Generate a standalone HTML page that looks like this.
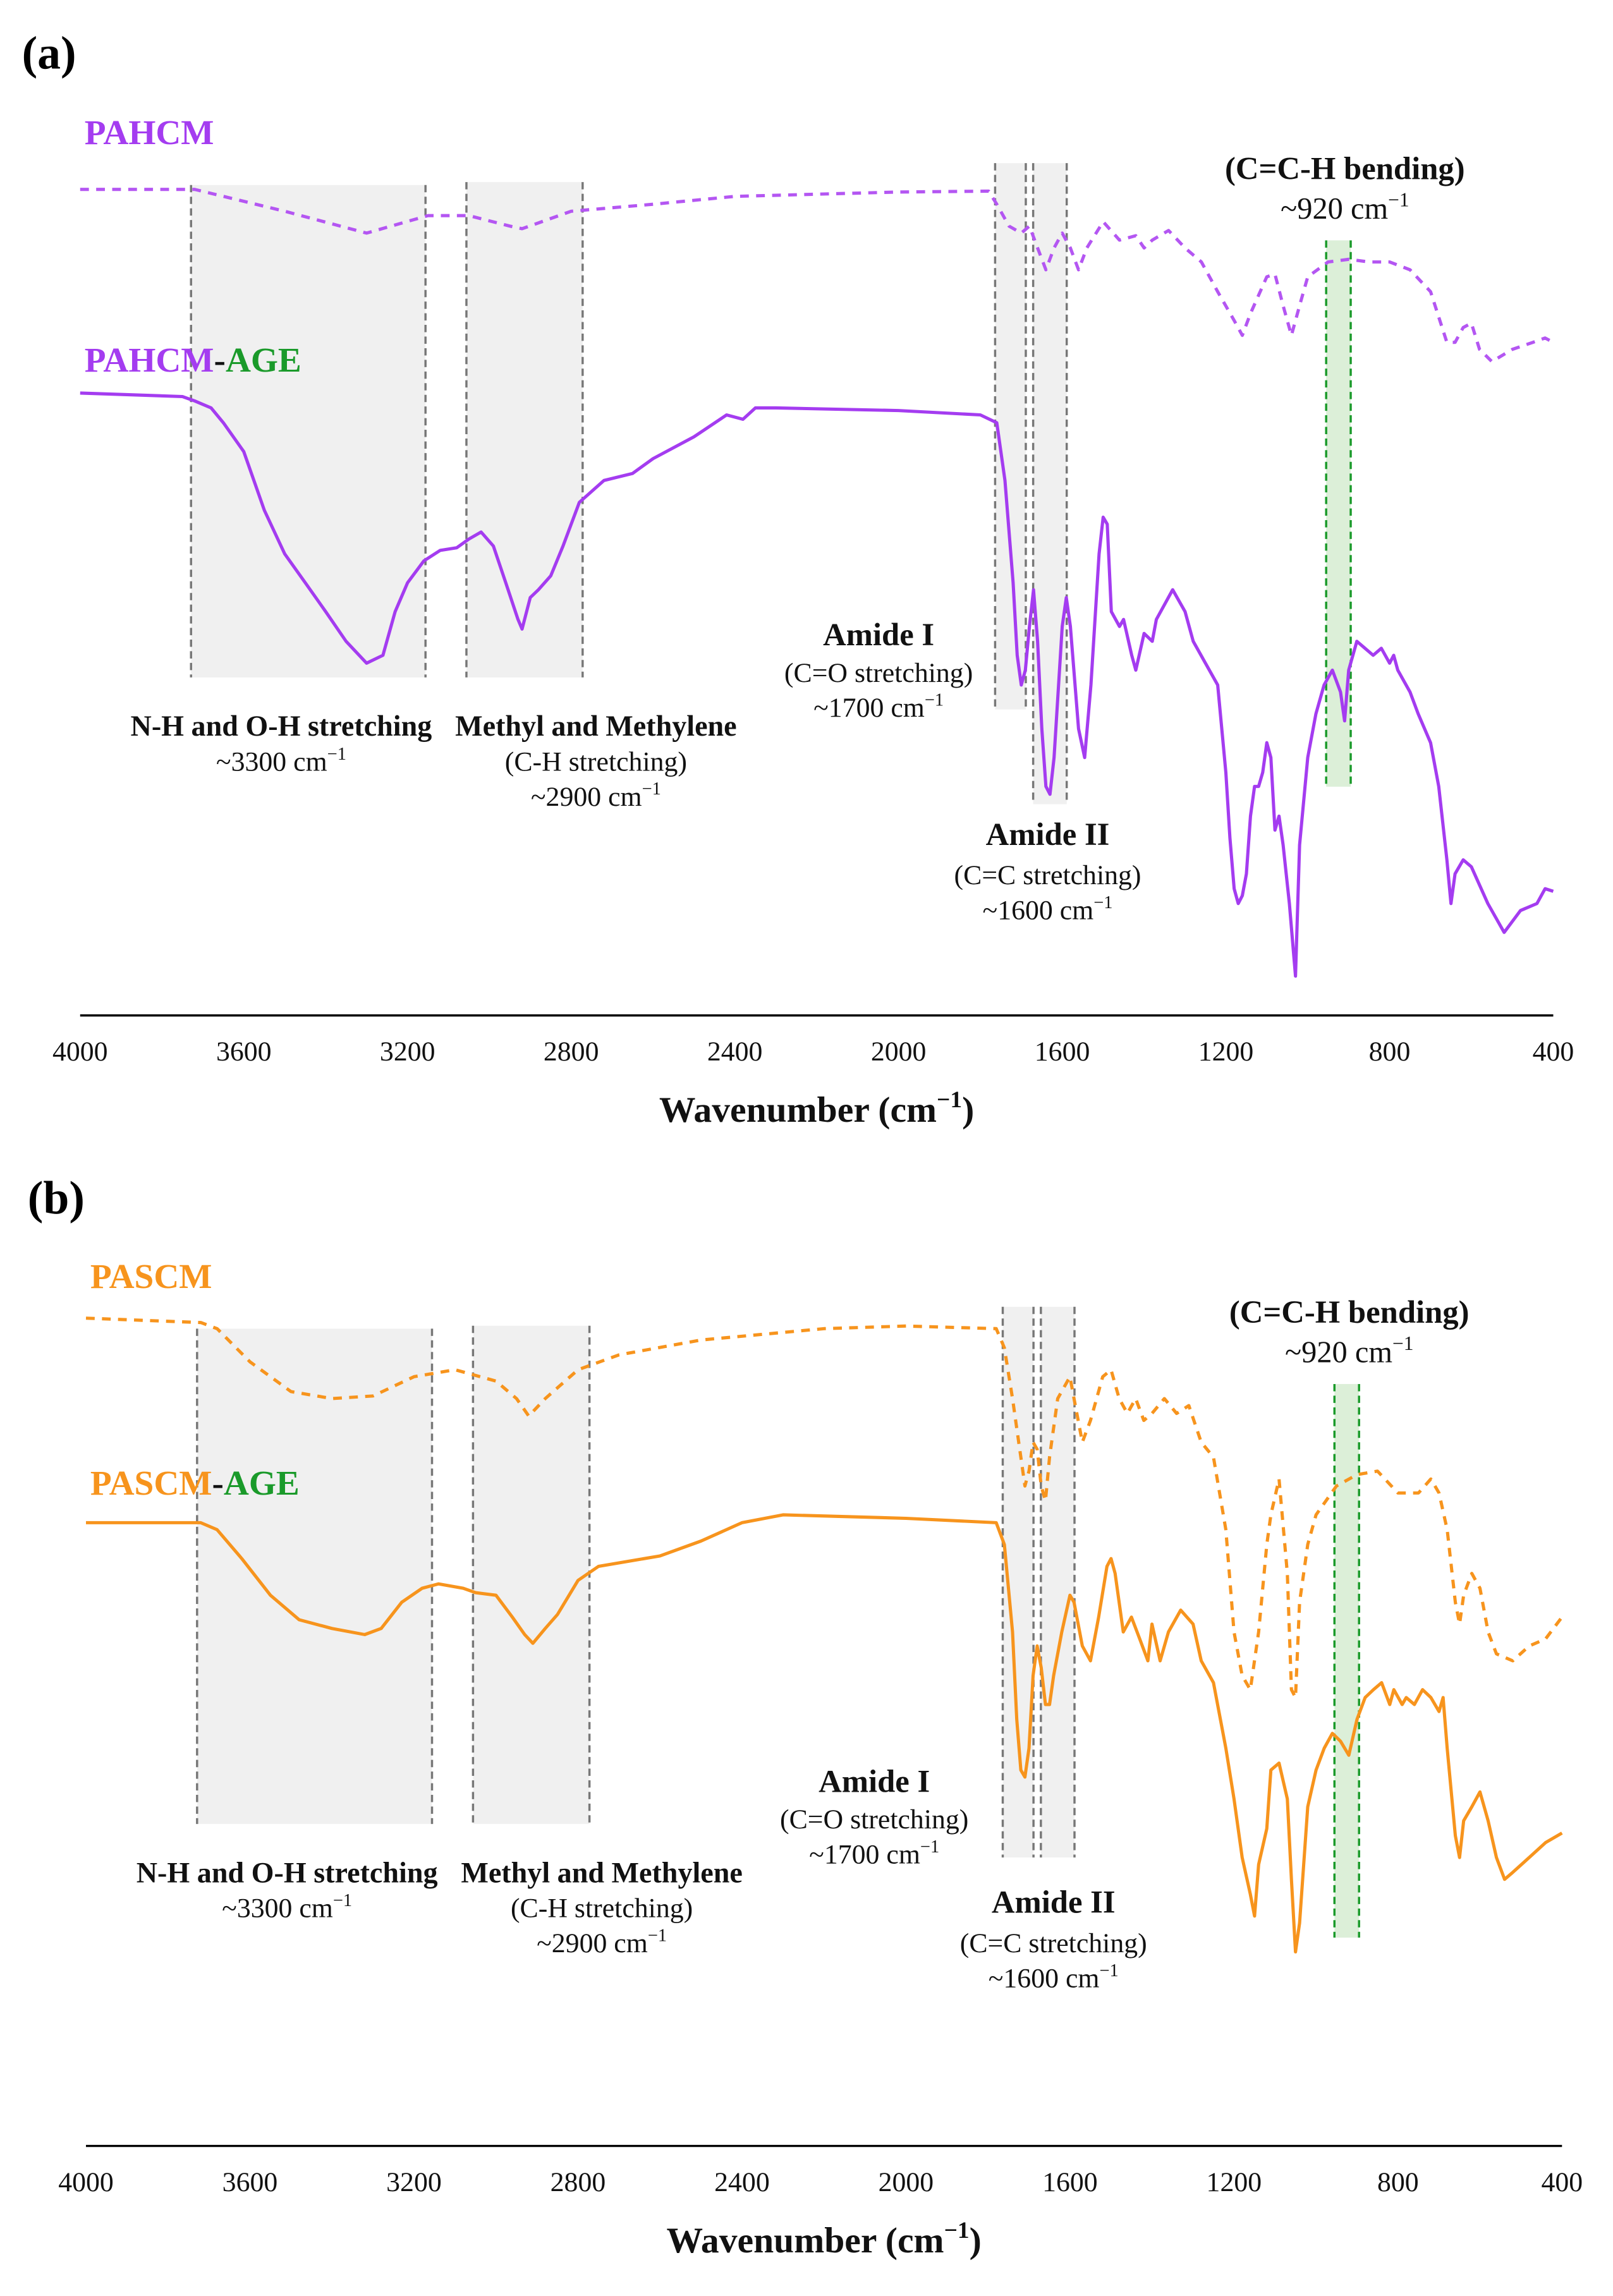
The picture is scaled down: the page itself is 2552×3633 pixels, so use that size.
<!DOCTYPE html>
<html><head><meta charset="utf-8"><style>
html,body{margin:0;padding:0;background:#fff}
svg{display:block}
text{font-family:"Liberation Serif",serif}
</style></head><body>
<svg id="chart" width="2552" height="3633" viewBox="0 0 1107 1576" preserveAspectRatio="none" xmlns="http://www.w3.org/2000/svg" font-family="Liberation Serif, serif">
<g id="panelA"></g>
<g id="panelB"></g>
</svg>
<script>
// ---- data: [wavenumber (cm-1), transmittance (a.u.)] ----
const tickLabels = [4000,3600,3200,2800,2400,2000,1600,1200,800,400];
const pahcmWn = [4000,3720,3500,3300,3150,3050,2950,2920,2800,2600,2400,2000,1780,1760,1730,1700,1680,1660,1640,1620,1600,1580,1560,1540,1500,1460,1420,1400,1380,1340,1300,1260,1220,1180,1160,1140,1100,1080,1060,1040,1020,1000,950,900,850,800,750,700,660,640,620,600,580,550,500,450,420,400];
const pahcmT = [94.5,94.5,92,89.5,91.5,91.5,90.3,90,92,92.8,93.7,94.2,94.3,92.8,90.3,89.5,90.3,87.8,85.3,87.8,89.5,87.8,85.3,87.8,90.8,88.7,89.2,87.8,88.7,89.8,87.8,86.2,82.8,79.5,77.8,80.3,84.5,84.8,81.2,77.8,81.2,84.5,86.2,86.5,86.2,86.2,85.3,82.8,77,77,78.7,79.2,76.2,74.8,76.2,77,77.5,77];
const pahcmAgeWn = [4000,3750,3720,3680,3650,3600,3550,3500,3450,3400,3350,3300,3260,3230,3200,3160,3120,3080,3050,3020,2990,2960,2930,2920,2900,2880,2850,2820,2780,2720,2650,2600,2500,2420,2380,2350,2300,2000,1800,1760,1740,1720,1710,1700,1690,1680,1670,1660,1650,1640,1630,1620,1600,1590,1580,1560,1545,1530,1510,1500,1490,1480,1460,1450,1430,1420,1400,1380,1370,1350,1330,1300,1280,1250,1220,1200,1190,1180,1170,1160,1150,1140,1130,1120,1110,1100,1090,1080,1070,1060,1045,1030,1020,1000,980,960,940,920,910,900,880,860,840,820,800,790,780,750,730,700,680,660,650,640,620,600,560,520,480,440,420,400];
const pahcmAgeT = [71.2,70.8,70.3,69.5,67.8,64.5,57.8,52.8,49.5,46.2,42.8,40.3,41.2,46.2,49.5,52,53.2,53.5,54.5,55.3,53.7,49.5,45.3,44.2,47.8,48.7,50.3,53.7,58.7,61.2,62,63.7,66.2,68.7,68.2,69.5,69.5,69.2,68.7,67.8,61.2,49.5,41.2,37.8,39.5,44.5,48.7,42.8,32.8,26.2,25.3,29.5,44.5,47.8,44.5,32.8,29.5,37.8,52.8,57,56.2,46.2,44.5,45.3,41.2,39.5,43.7,42.8,45.3,47,48.7,46.2,42.8,40.3,37.8,27.8,20.3,14.5,12.8,13.7,16.2,22.8,26.2,26.2,27.8,31.2,29.5,21.2,22.8,19.5,12.8,4.5,19.5,29.5,34.5,37.8,39.5,37,33.7,39.5,42.8,42,41.2,42,40.3,41.2,39.5,37,34.5,31.2,26.2,17.8,12.8,16.2,17.8,17,12.8,9.5,12,12.8,14.5,14.2];
const pascmWn = [4000,3720,3680,3600,3500,3400,3300,3200,3100,3000,2950,2920,2880,2800,2700,2500,2200,2000,1780,1760,1740,1720,1710,1700,1690,1680,1670,1660,1650,1630,1600,1590,1570,1550,1520,1500,1480,1460,1440,1420,1400,1370,1340,1310,1280,1250,1220,1200,1180,1160,1140,1120,1110,1090,1070,1060,1050,1040,1020,1000,950,900,850,800,750,720,700,680,660,650,640,620,600,580,560,520,480,440,400];
const pascmT = [94.7,94.2,93.5,89.7,86.3,85.5,85.8,88,88.8,87.5,85.5,83.5,85.5,88.8,90.5,92.2,93.5,93.8,93.5,91.3,85.5,78.8,75.5,77.2,80.5,79.7,75.5,73.8,78.8,85.5,88,85.5,80.5,83,88,88.8,85.5,83.8,85.5,83,83.8,85.5,83.8,84.7,80.5,78.8,70.5,58.8,53.8,52.2,58.8,68.8,72.2,76.3,65.5,52.2,51.3,62.2,68.8,72.2,75.5,76.8,77.2,74.7,74.7,76.3,74.7,70.5,62.2,59.7,63,65.5,63.8,58.8,56.3,55.5,57.2,58,60.5];
const pascmAgeWn = [4000,3720,3680,3620,3550,3480,3400,3320,3280,3230,3180,3140,3080,3050,3000,2960,2930,2910,2880,2850,2800,2750,2600,2500,2400,2300,2000,1780,1760,1740,1730,1720,1710,1700,1690,1680,1670,1660,1650,1640,1620,1600,1590,1570,1550,1530,1510,1500,1490,1470,1450,1430,1410,1400,1380,1360,1330,1300,1280,1250,1220,1200,1180,1160,1150,1140,1120,1110,1090,1070,1060,1050,1040,1020,1000,980,960,940,920,900,880,860,840,820,810,790,780,760,740,720,700,690,680,660,650,640,620,600,580,560,540,520,480,440,400];
const pascmAgeT = [71.3,71.3,70.5,67.2,63,60.2,59.2,58.5,59.2,62.2,63.8,64.3,63.8,63.3,63,60.5,58.5,57.5,59.2,60.8,64.7,66.3,67.5,69.2,71.3,72.2,71.8,71.3,68.8,58.8,48.8,43,42.2,45.5,53.8,57.2,54.7,50.5,50.5,53.8,58.8,63,62.2,57.2,55.5,60.5,66.3,67.2,65.5,58.8,60.5,58,55.5,59.7,55.5,58.8,61.3,59.7,55.5,53,45.5,39.7,33,28.8,26.3,32.2,36.3,43,43.8,39.7,30.5,22.2,25.5,38.8,43,45.5,47.2,46.3,44.7,48.8,51.3,52.2,53,50.5,52.2,50.5,51.3,50.5,52.2,51.3,49.7,51.3,45.5,35.5,33,37.2,38.8,40.5,37.2,33,30.5,31.3,33,34.7,35.8];

const NS = 'http://www.w3.org/2000/svg';
const FONT = 'Liberation Serif, serif';
function mk(parent, tag, attrs, txt){
  const e = document.createElementNS(NS, tag);
  for (const k in attrs) e.setAttribute(k, attrs[k]);
  if (tag === 'text') e.setAttribute('font-family', FONT);
  if (txt !== undefined) e.textContent = txt;
  parent.appendChild(e);
  return e;
}
function supText(parent, x, y, size, weight, main, tail){
  const t = mk(parent,'text',{x:x,y:y,'font-size':size,'font-weight':weight,'text-anchor':'middle',fill:'#111'});
  t.appendChild(document.createTextNode(main));
  const s = document.createElementNS(NS,'tspan'); s.setAttribute('dy', -size*0.4); s.setAttribute('font-size', size*0.65); s.textContent='\u22121'; t.appendChild(s);
  if (tail){ const r = document.createElementNS(NS,'tspan'); r.setAttribute('dy', size*0.4); r.textContent=tail; t.appendChild(r); }
  return t;
}
function drawPanel(g, cfg){
  const xS = w => cfg.x0 + (4000 - w) / 3600 * (cfg.x1 - cfg.x0);
  const yS = v => cfg.axisY - v * 6;
  const shades = [[3729,3156,cfg.r1,'#f0f0f0','region-nh-oh'],[3056,2772,cfg.r2,'#f0f0f0','region-ch'],[1764,1689,cfg.r3,'#f0f0f0','region-amide-i'],[1671,1589,cfg.r4,'#f0f0f0','region-amide-ii'],[955,895,cfg.r5,'#dcefd8','region-cch']];
  shades.forEach(s=>{
    const r = mk(g,'rect',{x:xS(s[0]),y:s[2][0],width:xS(s[1])-xS(s[0]),height:s[2][1]-s[2][0],fill:s[3]});
    
    
    const col = s[3]==='#dcefd8' ? '#1a9a2a' : '#777';
    [s[0],s[1]].forEach(w=>{
      const l = mk(g,'line',{x1:xS(w),x2:xS(w),y1:s[2][0],y2:s[2][1],stroke:col,'stroke-width':1.5,'stroke-dasharray':'5,3'});
      
      
    });
  });
  [[cfg.dWn,cfg.dT,cfg.dColor,'6,5',cfg.dName],[cfg.sWn,cfg.sT,cfg.color,null,cfg.sName]].forEach(s=>{
    const pts = s[0].map((w,i)=>xS(w).toFixed(1)+','+yS(s[1][i]).toFixed(1)).join(' ');
    const a = {points:pts,fill:'none',stroke:s[2],'stroke-width':2.2,'stroke-linejoin':'round'};
    if (s[3]) a['stroke-dasharray']=s[3];
    const p = mk(g,'polyline',a);
    
    
  });
  const ax = mk(g,'line',{x1:cfg.x0,x2:cfg.x1,y1:cfg.axisY,y2:cfg.axisY,stroke:'#000','stroke-width':1.5});
  
  
  tickLabels.forEach(t=>{
    const tl = mk(g,'text',{x:xS(t),y:cfg.axisY+31,'font-size':19,'text-anchor':'middle',fill:'#111'},String(t));
    
    
  });
  const xt = supText(g, (cfg.x0+cfg.x1)/2, cfg.axisY+73, 25, 'bold', 'Wavenumber (cm', ')');
  
  
  const pl = mk(g,'text',{x:cfg.x0-40,y:cfg.panelY,'font-size':32,'font-weight':'bold',fill:'#000'},cfg.panel);
  
  
  const l1 = mk(g,'text',{x:cfg.x0+3,y:cfg.lab1Y,'font-size':24,'font-weight':'bold',fill:cfg.color},cfg.dName.toUpperCase());
  
  
  const l2 = mk(g,'text',{x:cfg.x0+3,y:cfg.lab2Y,'font-size':24,'font-weight':'bold',fill:cfg.color},cfg.dName.toUpperCase());
  const ts = document.createElementNS(NS,'tspan'); ts.setAttribute('fill','#111'); ts.textContent='-'; l2.appendChild(ts);
  const ts2 = document.createElementNS(NS,'tspan'); ts2.setAttribute('fill','#1a9a2a'); ts2.textContent='AGE'; l2.appendChild(ts2);
  
  
  const A = cfg.ann;
  function bt(x,y,s){ const t=mk(g,'text',{x:x,y:y,'font-size':20,'font-weight':'bold','text-anchor':'middle',fill:'#111'},s);   }
  function nt(x,y,s){ const t=mk(g,'text',{x:x,y:y,'font-size':19,'text-anchor':'middle',fill:'#111'},s);   }
  function wn(x,y,s,sz){ const t=supText(g,x,y,sz||19,'normal',s);   }
  const c = mk(g,'text',{x:A.cch[0],y:A.cch[1],'font-size':22,'font-weight':'bold','text-anchor':'middle',fill:'#111'},'(C=C-H bending)');
   
  wn(A.cch[0],A.cch[1]+27,'~920 cm',21);
  bt(A.nh[0],A.nh[1],'N-H and O-H stretching'); wn(A.nh[0],A.nh[1]+24,'~3300 cm');
  bt(A.ch[0],A.ch[1],'Methyl and Methylene'); nt(A.ch[0],A.ch[1]+24,'(C-H stretching)'); wn(A.ch[0],A.ch[1]+48,'~2900 cm');
  const a1=mk(g,'text',{x:A.a1[0],y:A.a1[1],'font-size':22,'font-weight':'bold','text-anchor':'middle',fill:'#111'},'Amide I');  
  nt(A.a1[0],A.a1[1]+25,'(C=O stretching)'); wn(A.a1[0],A.a1[1]+49,'~1700 cm');
  const a2=mk(g,'text',{x:A.a2[0],y:A.a2[1],'font-size':22,'font-weight':'bold','text-anchor':'middle',fill:'#111'},'Amide II');  
  nt(A.a2[0],A.a2[1]+27,'(C=C stretching)'); wn(A.a2[0],A.a2[1]+51,'~1600 cm');
}
drawPanel(document.getElementById('panelA'), {
  x0:55,x1:1066,axisY:697,panel:'(a)',panelY:47,lab1Y:99,lab2Y:255,
  color:'#a43cf0',dColor:'#b456f2',dName:'pahcm',sName:'pahcm-age',
  dWn:pahcmWn,dT:pahcmT,sWn:pahcmAgeWn,sT:pahcmAgeT,
  r1:[127,465],r2:[125,465],r3:[112,487],r4:[112,552],r5:[165,540],
  ann:{cch:[923,123],nh:[193,505],ch:[409,505],a1:[603,443],a2:[719,580]}
});
drawPanel(document.getElementById('panelB'), {
  x0:59,x1:1072,axisY:1473,panel:'(b)',panelY:833,lab1Y:884,lab2Y:1026,
  color:'#f7941d',dColor:'#f7941d',dName:'pascm',sName:'pascm-age',
  dWn:pascmWn,dT:pascmT,sWn:pascmAgeWn,sT:pascmAgeT,
  r1:[912,1252],r2:[910,1252],r3:[897,1275],r4:[897,1275],r5:[950,1330],
  ann:{cch:[926,908],nh:[197,1292],ch:[413,1292],a1:[600,1230],a2:[723,1313]}
});
</script>
</body></html>
